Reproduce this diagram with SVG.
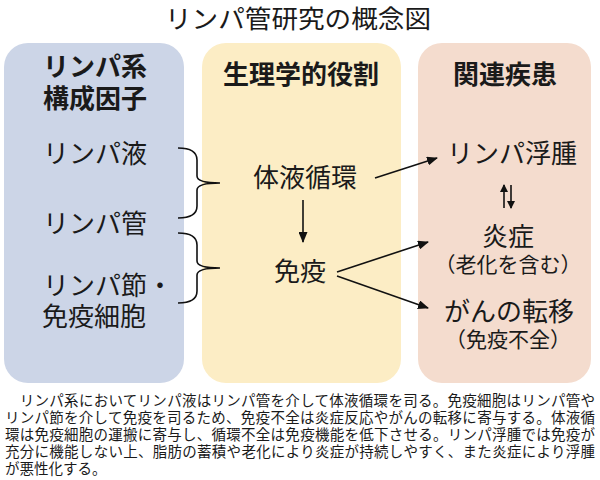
<svg xmlns="http://www.w3.org/2000/svg" width="600" height="480" viewBox="0 0 600 480">
<style>
text{font-family:"Noto Sans CJK JP","Noto Sans",sans-serif;fill:#1a1a1a}
.t{font-size:26px}
.h{font-size:26px;font-weight:bold}
.m{text-anchor:middle}
.s{font-size:21px}
.c{font-size:14.5px}
.ln{stroke:#111;stroke-width:1.6;fill:none}
</style>
<defs>
<marker id="ah" markerUnits="userSpaceOnUse" markerWidth="11" markerHeight="9" refX="10" refY="4.5" orient="auto">
<path d="M0,0 L11,4.5 L0,9 z" fill="#111"/>
</marker>
<marker id="ahs" markerUnits="userSpaceOnUse" markerWidth="8" markerHeight="8" refX="7" refY="4" orient="auto">
<path d="M0,0 L8,4 L0,8 z" fill="#111"/>
</marker>
</defs>
<rect width="600" height="480" fill="#ffffff"/>
<text class="m" x="298" y="28" style="font-size:25.5px" textLength="266" lengthAdjust="spacingAndGlyphs">リンパ管研究の概念図</text>

<g id="panel-components">
<rect x="4" y="43" width="180" height="340" rx="24" fill="#ccd5e7"/>
<text class="h m" x="95" y="76">リンパ系</text>
<text class="h m" x="95" y="108">構成因子</text>
</g>
<g id="panel-roles">
<rect x="202" y="43" width="199" height="340" rx="24" fill="#fcedc5"/>
<text class="h m" x="301" y="84">生理学的役割</text>
</g>
<g id="panel-diseases">
<rect x="418" y="43" width="173" height="340" rx="24" fill="#f4dcce"/>
<text class="h m" x="505" y="84">関連疾患</text>
</g>

<g id="node-lymph-fluid"><text class="t" x="43" y="163">リンパ液</text></g>
<g id="node-lymph-vessel"><text class="t" x="43" y="233">リンパ管</text></g>
<g id="node-lymph-node"><text class="t" x="43" y="295">リンパ節・</text><text class="t" x="42" y="326">免疫細胞</text></g>

<g id="node-body-fluid"><text class="t m" x="305" y="187">体液循環</text></g>
<g id="node-immunity"><text class="t m" x="300" y="281">免疫</text></g>

<g id="node-lymphedema"><text class="t m" x="512" y="163">リンパ浮腫</text></g>
<g id="node-inflammation"><text class="t m" x="508" y="246">炎症</text><text class="s m" x="508" y="272">（老化を含む）</text></g>
<g id="node-metastasis"><text class="t m" x="509" y="321">がんの転移</text><text class="s m" x="508" y="347">（免疫不全）</text></g>

<g id="connectors">
<path class="ln" d="M178,148 Q197,148 197,160 L197,176 Q197,183 220,183 Q197,183 197,190 L197,206 Q197,218 178,218"/>
<path class="ln" d="M178,233 Q197,233 197,245 L197,261 Q197,268 220,268 Q197,268 197,275 L197,291 Q197,303 178,303"/>
<line class="ln" x1="303" y1="200" x2="303" y2="242" marker-end="url(#ah)"/>
<line class="ln" x1="375" y1="178" x2="437" y2="158" marker-end="url(#ah)"/>
<line class="ln" x1="337" y1="272" x2="428" y2="242" marker-end="url(#ah)"/>
<line class="ln" x1="337" y1="276" x2="428" y2="308" marker-end="url(#ah)"/>
<line class="ln" x1="504" y1="208" x2="504" y2="185" marker-end="url(#ahs)"/>
<line class="ln" x1="511" y1="185" x2="511" y2="208" marker-end="url(#ahs)"/>
</g>

<g id="caption">
<text class="c" x="5" y="406" textLength="590" lengthAdjust="spacing">　リンパ系においてリンパ液はリンパ管を介して体液循環を司る。免疫細胞はリンパ管や</text>
<text class="c" x="5" y="423" textLength="590" lengthAdjust="spacing">リンパ節を介して免疫を司るため、免疫不全は炎症反応やがんの転移に寄与する。体液循</text>
<text class="c" x="5" y="440" textLength="590" lengthAdjust="spacing">環は免疫細胞の運搬に寄与し、循環不全は免疫機能を低下させる。リンパ浮腫では免疫が</text>
<text class="c" x="5" y="457" textLength="590" lengthAdjust="spacing">充分に機能しない上、脂肪の蓄積や老化により炎症が持続しやすく、また炎症により浮腫</text>
<text class="c" x="5" y="474">が悪性化する。</text>
</g>
</svg>
